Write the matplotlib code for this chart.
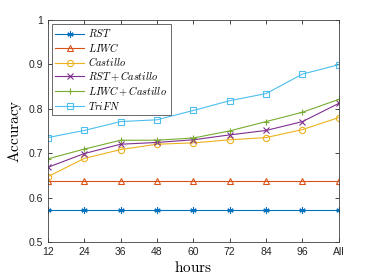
import numpy as np
import matplotlib
matplotlib.use('Agg')
import matplotlib.pyplot as plt

plt.rcParams['mathtext.fontset'] = 'cm'
plt.rcParams['font.family'] = ['Liberation Sans', 'DejaVu Sans']

# Data
hours = ['12', '24', '36', '48', '60', '72', '84', '96', 'All']
rst = [0.572] * 9
liwc = [0.638] * 9
castillo = [0.647, 0.688, 0.708, 0.720, 0.723, 0.730, 0.735, 0.753, 0.780]
rst_castillo = [0.668, 0.699, 0.720, 0.724, 0.730, 0.741, 0.751, 0.771, 0.812]
liwc_castillo = [0.687, 0.709, 0.729, 0.729, 0.734, 0.750, 0.771, 0.792, 0.821]
trifn = [0.735, 0.751, 0.771, 0.775, 0.796, 0.818, 0.834, 0.878, 0.899]

series = [
    (rst, r'$RST$', '#0072BD', (6, 2, 0)),
    (liwc, r'$LIWC$', '#D95319', '^'),
    (castillo, r'$Castillo$', '#EDB120', 'o'),
    (rst_castillo, r'$RST + Castillo$', '#7E2F8E', 'x'),
    (liwc_castillo, r'$LIWC + Castillo$', '#77AC30', '+'),
    (trifn, r'$TriFN$', '#4DBEEE', 's'),
]

fig = plt.figure(figsize=(3.74, 2.8), dpi=100)
ax = fig.add_axes([0.128, 0.136, 0.778, 0.793])

x = np.arange(len(hours))
for vals, label, color, marker in series:
    ax.plot(x, vals, color=color, marker=marker, markersize=4.5, linewidth=0.8,
            markerfacecolor='none', markeredgewidth=0.8, label=label)

ax.set_xlim(0, len(hours) - 1)
ax.set_ylim(0.5, 1.0)
ax.set_xticks(x)
ax.set_xticklabels(hours)
ax.set_yticks([0.5, 0.6, 0.7, 0.8, 0.9, 1.0])
ax.set_yticklabels(['0.5', '0.6', '0.7', '0.8', '0.9', '1'])
ax.tick_params(direction='in', top=True, right=True, labelsize=7.5,
               length=3, width=0.6, colors='#262626', pad=3.5)
for s in ax.spines.values():
    s.set_color('#404040')
    s.set_linewidth(0.6)

ax.set_xlabel(r'$\mathrm{hours}$', fontsize=11, labelpad=2)
ax.set_ylabel(r'$\mathrm{Accuracy}$', fontsize=11, labelpad=3)

leg = ax.legend(loc='upper left', fontsize=7.5, frameon=True, fancybox=False,
                edgecolor='#262626', handlelength=2.8, borderpad=0.3,
                labelspacing=0.15, handletextpad=0.4, borderaxespad=0.4)
leg.get_frame().set_linewidth(0.6)

fig.savefig('out.png', dpi=100)
